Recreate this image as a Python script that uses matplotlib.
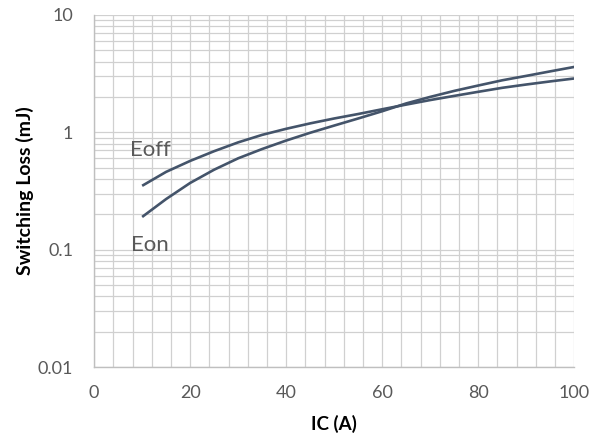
import matplotlib.pyplot as plt
from matplotlib.ticker import FixedLocator, NullFormatter, FixedFormatter
import numpy as np

# current (A)
ic = [10, 15, 20, 25, 30, 35, 40, 45, 50, 55, 60, 65, 70, 75, 80, 85, 90, 95, 100]
# switching losses (mJ)
eoff = [0.35, 0.46, 0.57, 0.69, 0.82, 0.95, 1.07, 1.19, 1.31, 1.43, 1.57, 1.72,
        1.88, 2.04, 2.21, 2.39, 2.55, 2.71, 2.87]
eon = [0.19, 0.27, 0.37, 0.48, 0.60, 0.72, 0.85, 0.99, 1.14, 1.31, 1.51, 1.76,
       2.0, 2.25, 2.5, 2.77, 3.02, 3.3, 3.6]

xticks = [0, 20, 40, 60, 80, 100]
yticks = [0.01, 0.1, 1, 10]
ytick_labels = ['0.01', '0.1', '1', '10']

plt.rcParams['font.family'] = ['Lato', 'DejaVu Sans']

fig = plt.figure(figsize=(5.92, 4.36), dpi=100)
ax = fig.add_axes([0.159, 0.158, 0.811, 0.808])

line_color = '#44546a'
text_color = '#595959'
grid_color = '#d0d0d0'

ax.plot(ic, eoff, color=line_color, linewidth=1.9, solid_capstyle='butt')
ax.plot(ic, eon, color=line_color, linewidth=1.9, solid_capstyle='butt')

ax.set_yscale('log')
ax.set_xlim(0, 100)
ax.set_ylim(0.01, 10)

# grid: x every 4, log minors on y
ax.xaxis.set_major_locator(FixedLocator(xticks))
ax.xaxis.set_minor_locator(FixedLocator(np.arange(0, 101, 4)))
ax.yaxis.set_major_locator(FixedLocator(yticks))
ax.yaxis.set_major_formatter(FixedFormatter(ytick_labels))
minor_y = [m * d for d in [0.01, 0.1, 1] for m in range(2, 10)]
ax.yaxis.set_minor_locator(FixedLocator(minor_y))
ax.yaxis.set_minor_formatter(NullFormatter())

ax.grid(True, which='both', color=grid_color, linewidth=0.9)
ax.set_axisbelow(True)

for side in ['top', 'right']:
    ax.spines[side].set_visible(False)
for side in ['left', 'bottom']:
    ax.spines[side].set_color('#bfbfbf')
    ax.spines[side].set_linewidth(1.0)

ax.tick_params(which='both', length=0)
ax.tick_params(axis='x', pad=13, labelsize=13, labelcolor=text_color)
ax.tick_params(axis='y', pad=15, labelsize=13, labelcolor=text_color)

ax.set_xlabel('IC (A)', fontsize=13.5, fontweight='bold', labelpad=10)
ax.set_ylabel('Switching Loss (mJ)', fontsize=14, fontweight='bold', labelpad=3)

ax.text(7.5, 0.70, 'Eoff', fontsize=16, color=text_color, va='center', ha='left')
ax.text(7.7, 0.11, 'Eon', fontsize=16, color=text_color, va='center', ha='left')

fig.savefig('out.png', dpi=100)
